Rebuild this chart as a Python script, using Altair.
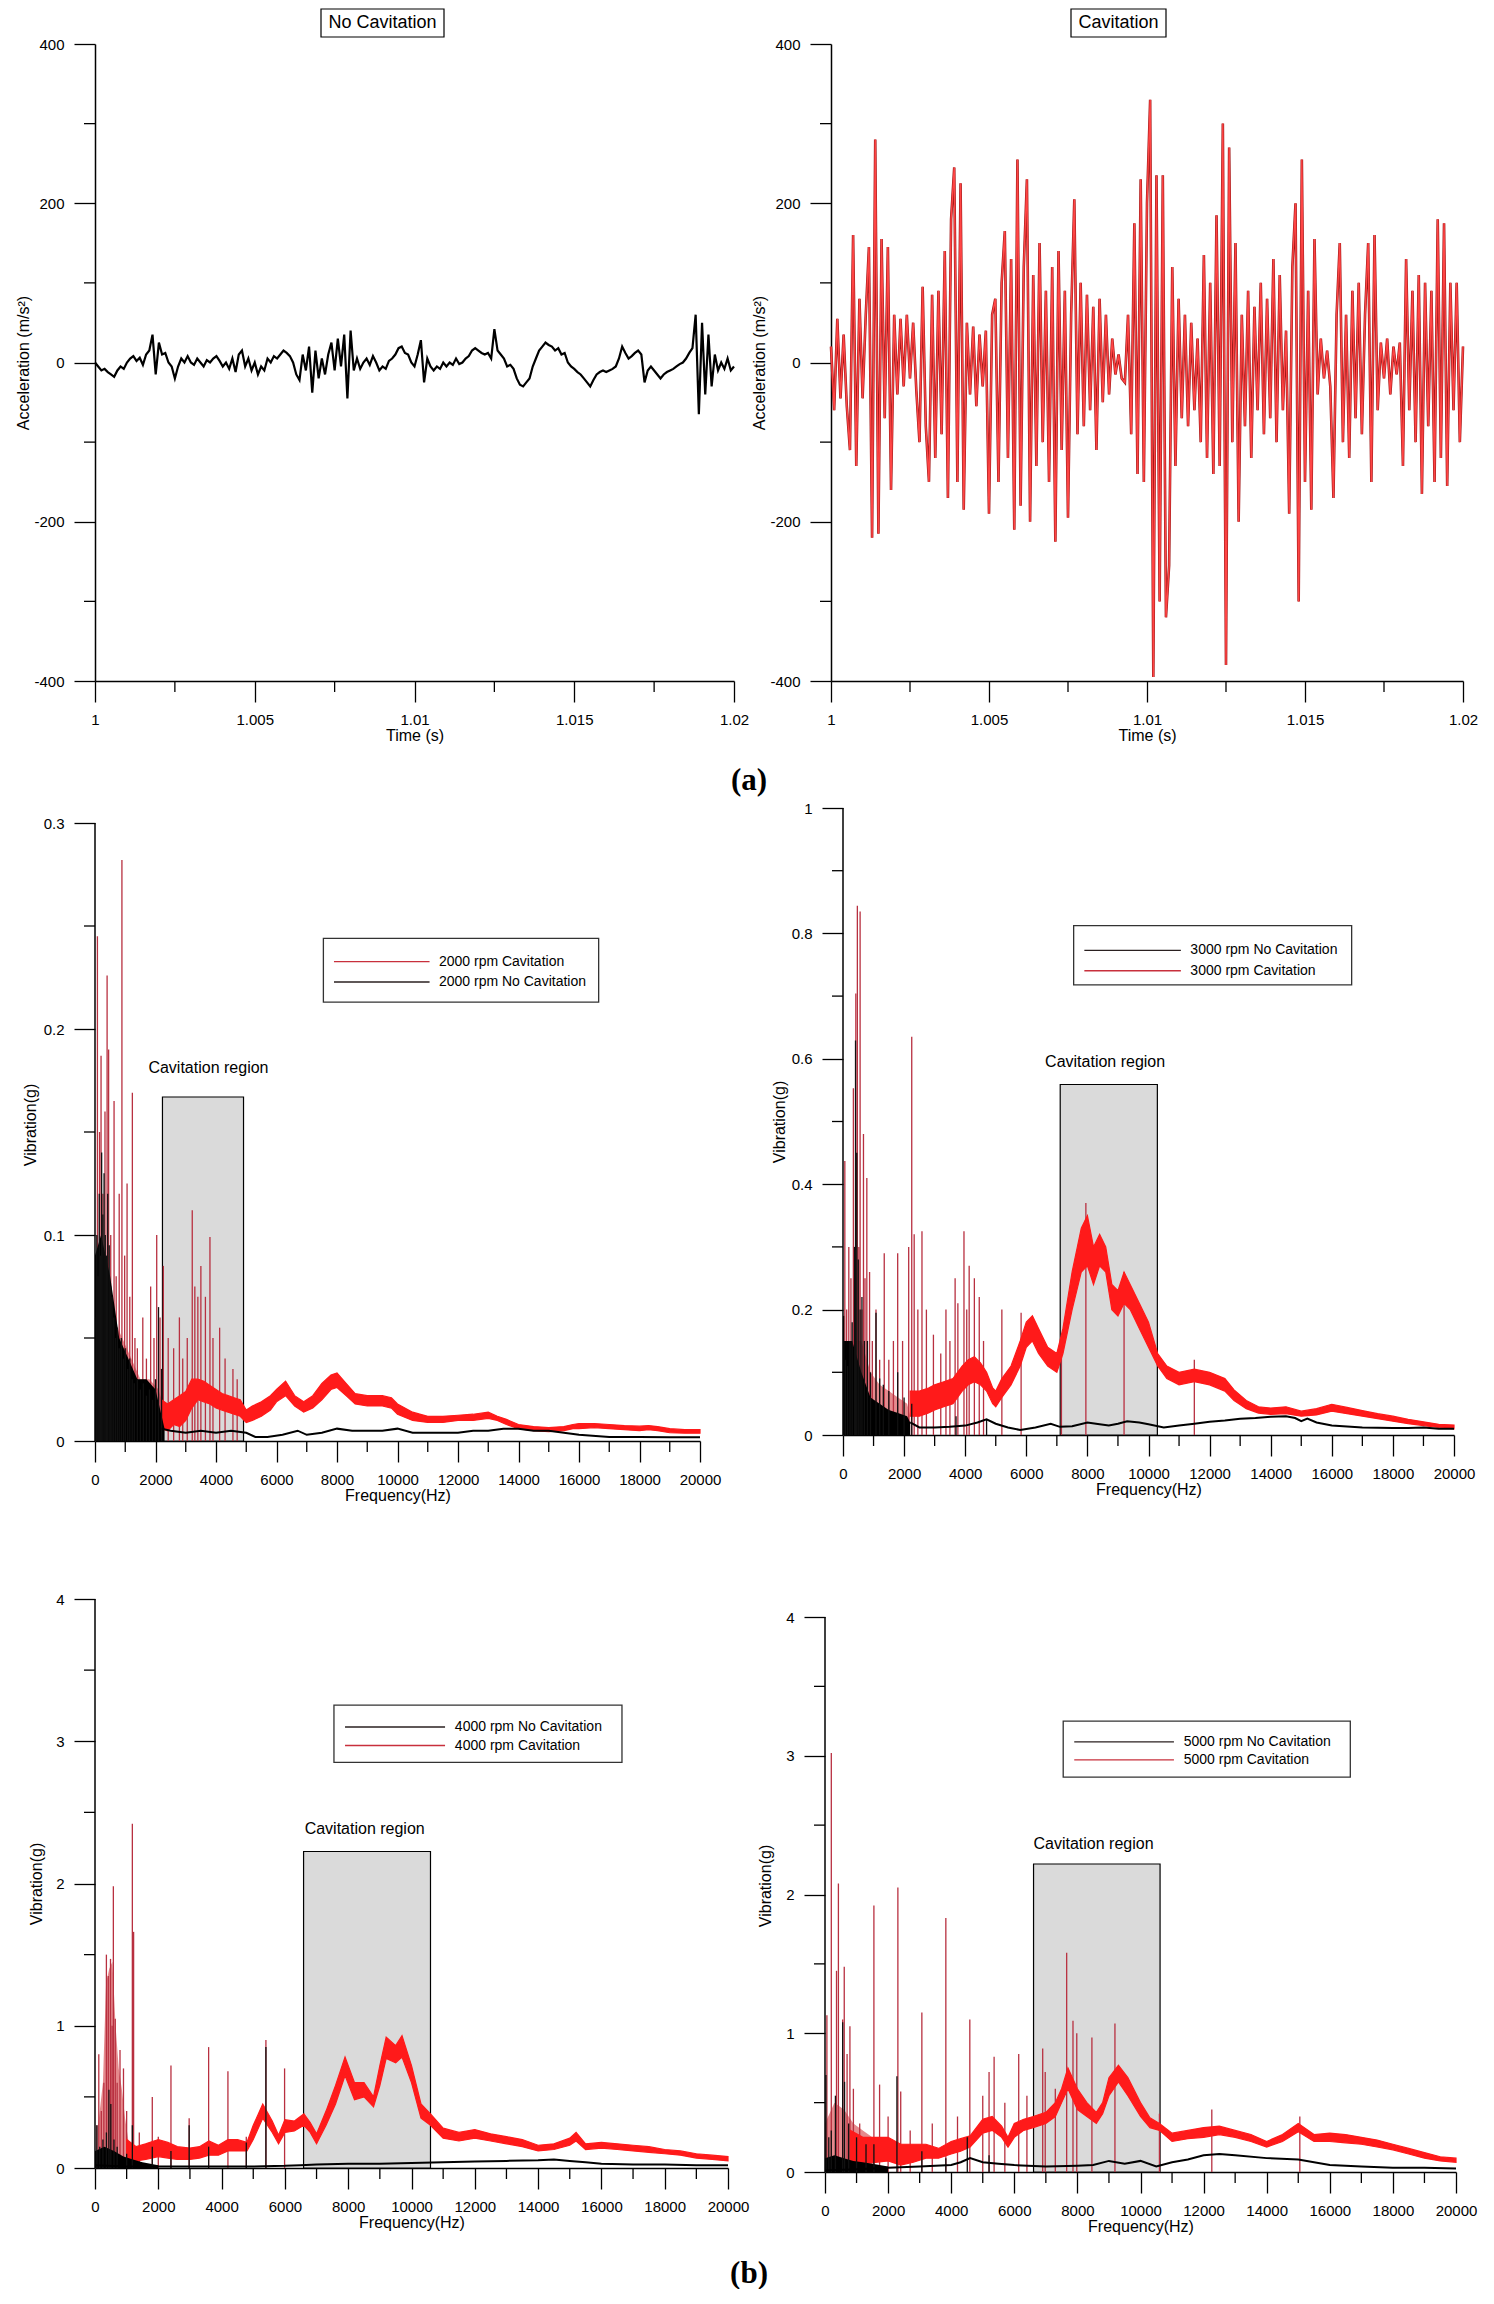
import altair as alt
import pandas as pd

FONT = "Liberation Sans"
SERIF = "Liberation Serif"

# ---------------- (a) time signals ----------------
T_START = 1.0
T_STEP = 0.0001
ACC_NO_CAV = [
    0, -5, -10, -8, -12, -15, -18, -10, -5, -8, 0, 5, 8, 2, 6, -3, 10, 15, 35, -15,
    25, 10, 12, 0, -5, -20, -5, 5, 0, 8, 0, -3, 5, 0, -5, 3, 0, 5, 8, 2,
    -5, 0, -8, 5, -12, 10, 15, -5, 5, -10, 0, -15, -5, -10, 5, 0, 8, 5, 10, 15,
    12, 8, 0, -15, -22, 10, -10, 20, -38, 15, -20, 5, -15, 10, 25, -10, 30, -5, 35, -45,
    40, -10, 5, -8, 0, 5, -3, 8, 0, -10, -5, -8, 2, 5, 10, 18, 20, 12, 10, 0,
    -5, 10, 28, -25, 5, -5, -10, -5, -8, 0, -5, 0, -3, 5, -2, 0, 5, 8, 15, 18,
    15, 12, 10, 12, 5, 42, 15, 10, 5, -5, -3, -8, -20, -28, -30, -25, -20, -5, 5, 15,
    20, 25, 22, 20, 15, 18, 10, 12, 0, -5, -8, -12, -15, -20, -25, -30, -22, -15, -12, -10,
    -12, -10, -8, -5, 5, 20, 12, 5, 8, 12, 15, 10, -25, -10, -5, -10, -15, -20, -15, -12,
    -10, -8, -5, -2, 0, 5, 12, 18, 60, -65, 50, -40, 35, -30, 10, -10, 0, -8, 5, -10,
    -5,
]
ACC_CAV = [
    20, -60, 55, -45, 35, -55, -110, 160, -130, 80, -45, 60, 145, -220, 280, -215, 155, -70, 145, -160,
    60, -40, 55, -30, 60, -20, 50, -35, -100, 95, -80, -150, 85, -120, 90, -90, 140, -170, 180, 245,
    -150, 225, -185, 50, -40, 45, -55, 35, -30, 40, -190, 60, 80, -150, 100, 165, -120, 130, -210, 255,
    -180, 120, 230, -200, 110, -130, 150, -100, 90, -150, 120, -225, 140, -110, 90, -195, 60, 205, -90, 100,
    -80, 85, -60, 70, -110, 80, -50, 60, -40, 30, -15, 10, -20, -25, 60, -90, 175, -140, 230, -150,
    200, 330, -395, 235, -300, 235, -320, -255, 120, -130, 80, -70, 60, -80, 50, -60, 30, -100, 135, -120,
    100, -140, 185, -130, 300, -380, 270, -100, 150, -200, 60, -80, 90, -120, 70, -60, 100, -90, 80, -70,
    130, -100, 110, -60, 40, -190, 120, 200, -300, 255, -150, 90, -185, 155, -40, 30, -20, 15, -30, -170,
    60, 150, -100, 60, -120, 90, -70, 100, -90, 60, 150, -150, 160, -60, 25, -20, 30, -40, 20, -15,
    25, -130, 130, -60, 90, -100, 110, -165, 100, -80, 90, -150, 180, -120, 175, -155, 100, -60, 100, -100,
    20,
]
TIME = [round(T_START + i * T_STEP, 5) for i in range(len(ACC_CAV))]
TIME_TICKS = [1, 1.005, 1.01, 1.015, 1.02]
TIME_MINOR = [1.0025, 1.0075, 1.0125, 1.0175]
ACC_TICKS = [-400, -200, 0, 200, 400]
ACC_MINOR = [-300, -100, 100, 300]

# ---------------- (b) spectra ----------------
FREQ_TICKS = [0, 2000, 4000, 6000, 8000, 10000, 12000, 14000, 16000, 18000, 20000]
FREQ_MINOR = [1000, 3000, 5000, 7000, 9000, 11000, 13000, 15000, 17000, 19000]

# 2000 rpm
R2_F = [2200, 2400, 2600, 2800, 3000, 3200, 3400, 3600, 3800, 4000, 4200, 4400, 4600, 4800, 5000, 5200, 5500, 5800,
        6000, 6300, 6600, 6900, 7200, 7500, 7800, 8000, 8300, 8600, 9000, 9500, 9800, 10000, 10500, 11000, 11500,
        12000, 12500, 13000, 13300, 13600, 14000, 14500, 15000, 15500, 15800, 16000, 16500, 17000, 17500, 18000,
        18300, 18600, 19000, 19500, 20000]
R2_LO = [0.006, 0.005, 0.008, 0.007, 0.010, 0.016, 0.020, 0.019, 0.018, 0.016, 0.015, 0.014, 0.013, 0.012, 0.009,
         0.010, 0.012, 0.015, 0.019, 0.022, 0.017, 0.014, 0.016, 0.020, 0.025, 0.026, 0.022, 0.018, 0.017, 0.017,
         0.016, 0.013, 0.010, 0.009, 0.009, 0.010, 0.010, 0.011, 0.010, 0.008, 0.006, 0.005, 0.0045, 0.005, 0.006,
         0.006, 0.0065, 0.006, 0.0055, 0.005, 0.0055, 0.005, 0.004, 0.0038, 0.0038]
R2_HI = [0.020, 0.018, 0.020, 0.022, 0.024, 0.030, 0.030, 0.029, 0.027, 0.025, 0.023, 0.022, 0.021, 0.020, 0.015,
         0.017, 0.019, 0.022, 0.025, 0.029, 0.022, 0.019, 0.022, 0.028, 0.032, 0.033, 0.028, 0.023, 0.022, 0.022,
         0.021, 0.018, 0.014, 0.012, 0.012, 0.0125, 0.013, 0.014, 0.012, 0.0105, 0.008, 0.007, 0.0065, 0.007, 0.008,
         0.0085, 0.0085, 0.008, 0.0075, 0.0072, 0.0075, 0.007, 0.006, 0.0055, 0.0055]
R2_LOW_F = [0, 300, 600, 900, 1200, 1500, 1800, 2100, 2200]
R2_LOW_H = [0.07, 0.08, 0.06, 0.05, 0.04, 0.03, 0.03, 0.025, 0.02]
R2_SPK_F = [80, 150, 200, 260, 330, 400, 450, 520, 630, 700, 800, 890, 980, 1060, 1150, 1235, 1320, 1400, 1580,
            1700, 1840, 1950, 2040, 2150, 2260, 2420, 2600, 2790, 2900, 3050, 3215, 3300, 3400, 3500, 3650, 3800,
            3900, 4120, 4300, 4560, 4700]
R2_SPK_H = [0.245, 0.15, 0.187, 0.12, 0.16, 0.226, 0.19, 0.1, 0.165, 0.08, 0.12, 0.282, 0.09, 0.125, 0.07, 0.169,
            0.05, 0.045, 0.06, 0.04, 0.075, 0.05, 0.1, 0.06, 0.085, 0.05, 0.045, 0.06, 0.04, 0.05, 0.112, 0.075,
            0.07, 0.085, 0.07, 0.099, 0.05, 0.055, 0.04, 0.035, 0.03]
B2_LOW_F = [0, 200, 500, 800, 1100, 1400, 1700, 2000, 2300]
B2_LOW_H = [0.09, 0.10, 0.08, 0.05, 0.04, 0.03, 0.03, 0.025, 0.006]
B2_SPK_F = [20, 60, 100, 140, 180, 220, 260, 300, 340, 380, 420, 470, 520, 560, 620, 680, 740, 800, 870, 940,
            1000, 1080, 1150, 1230, 1300, 1400, 1500, 1600, 1700, 1800, 1900, 2000, 2100, 2200]
B2_SPK_H = [0.06, 0.1, 0.08, 0.12, 0.09, 0.14, 0.11, 0.13, 0.1, 0.09, 0.12, 0.095, 0.075, 0.07, 0.06, 0.05, 0.055,
            0.045, 0.05, 0.04, 0.045, 0.035, 0.04, 0.03, 0.028, 0.03, 0.025, 0.028, 0.022, 0.025, 0.02, 0.03,
            0.065, 0.035]
B2_F = [2200, 2500, 3000, 3500, 4000, 4500, 5000, 5300, 5700, 6200, 6700, 7000, 7500, 8000, 8500, 9000, 9500,
        10000, 10500, 11000, 11500, 12000, 12500, 13000, 13500, 14000, 14500, 15000, 15500, 16000, 17000, 18000,
        19000, 20000]
B2_V = [0.006, 0.005, 0.004, 0.005, 0.004, 0.005, 0.004, 0.002, 0.002, 0.003, 0.005, 0.003, 0.004, 0.006, 0.005,
        0.005, 0.005, 0.006, 0.004, 0.004, 0.004, 0.004, 0.005, 0.005, 0.006, 0.006, 0.005, 0.005, 0.004, 0.003,
        0.002, 0.002, 0.0018, 0.0018]

# 3000 rpm
R3_F = [2200, 2500, 2800, 3000, 3300, 3600, 3900, 4100, 4300, 4500, 4700, 4900, 5000, 5200, 5500, 5800, 6000, 6200,
        6400, 6700, 7000, 7200, 7500, 7800, 8000, 8200, 8400, 8600, 8800, 9000, 9200, 9400, 9700, 10000, 10300,
        10600, 11000, 11500, 12000, 12500, 12800, 13200, 13600, 14000, 14500, 15000, 15500, 16000, 16500, 17000,
        17500, 18000, 18500, 19000, 19500, 20000]
R3_LO = [0.03, 0.03, 0.035, 0.04, 0.045, 0.05, 0.07, 0.08, 0.085, 0.08, 0.07, 0.05, 0.045, 0.06, 0.08, 0.11, 0.14,
         0.15, 0.13, 0.11, 0.10, 0.13, 0.20, 0.26, 0.27, 0.24, 0.27, 0.26, 0.20, 0.19, 0.21, 0.20, 0.17, 0.14,
         0.11, 0.09, 0.08, 0.085, 0.08, 0.07, 0.055, 0.042, 0.035, 0.033, 0.034, 0.030, 0.032, 0.038, 0.034,
         0.030, 0.026, 0.022, 0.018, 0.015, 0.012, 0.010]
R3_HI = [0.07, 0.07, 0.075, 0.08, 0.085, 0.09, 0.11, 0.12, 0.125, 0.115, 0.10, 0.075, 0.07, 0.09, 0.11, 0.15, 0.18,
         0.19, 0.17, 0.14, 0.13, 0.17, 0.26, 0.33, 0.35, 0.30, 0.32, 0.30, 0.24, 0.23, 0.26, 0.24, 0.21, 0.18,
         0.13, 0.11, 0.10, 0.105, 0.10, 0.09, 0.072, 0.055, 0.045, 0.043, 0.045, 0.038, 0.042, 0.049, 0.044,
         0.039, 0.034, 0.030, 0.025, 0.021, 0.017, 0.016]
R3_LOW_F = [0, 300, 600, 900, 1200, 1500, 1800, 2100, 2200]
R3_LOW_H = [0.10, 0.15, 0.15, 0.10, 0.08, 0.07, 0.06, 0.05, 0.03]
R3_SPK_F = [60, 120, 190, 260, 340, 420, 470, 520, 560, 620, 670, 720, 780, 870, 960, 1080, 1200, 1350, 1500, 1650,
            1790, 1950, 2150, 2250, 2330, 2450, 2585, 2730, 2960, 3200, 3370, 3500, 3670, 3760, 3960, 4050, 4130,
            4300, 4460, 4600, 5200, 5830, 7150, 7950, 9200, 11500]
R3_SPK_H = [0.437, 0.2, 0.3, 0.25, 0.553, 0.704, 0.844, 0.3, 0.835, 0.2, 0.48, 0.25, 0.41, 0.26, 0.15, 0.2, 0.12,
            0.29, 0.12, 0.15, 0.29, 0.15, 0.3, 0.635, 0.32, 0.2, 0.325, 0.2, 0.16, 0.13, 0.2, 0.15, 0.25, 0.21,
            0.325, 0.2, 0.27, 0.25, 0.22, 0.15, 0.2, 0.195, 0.15, 0.37, 0.26, 0.12]
B3_LOW_F = [0, 300, 600, 900, 1200, 1500, 1800, 2100, 2200]
B3_LOW_H = [0.15, 0.15, 0.10, 0.06, 0.05, 0.04, 0.035, 0.03, 0.02]
B3_SPK_F = [20, 80, 150, 230, 300, 380, 410, 450, 500, 560, 620, 700, 800, 900, 1080, 1200, 1320, 1500, 1790,
            2000, 2250, 3700, 4700]
B3_SPK_H = [0.19, 0.12, 0.11, 0.15, 0.18, 0.3, 0.629, 0.45, 0.28, 0.2, 0.22, 0.15, 0.15, 0.1, 0.195, 0.09, 0.08,
            0.07, 0.1, 0.06, 0.05, 0.03, 0.025]
B3_F = [2200, 2500, 3000, 3500, 4000, 4400, 4700, 5000, 5400, 5800, 6300, 6800, 7100, 7500, 8000, 8400, 8700,
        9000, 9300, 9700, 10000, 10500, 11000, 11500, 12000, 12500, 13000, 13500, 14000, 14500, 14800, 15000,
        15200, 15500, 16000, 17000, 18000, 18500, 19000, 19500, 20000]
B3_V = [0.02, 0.012, 0.012, 0.013, 0.015, 0.02, 0.025, 0.018, 0.012, 0.008, 0.012, 0.018, 0.013, 0.014, 0.02,
        0.017, 0.015, 0.018, 0.022, 0.02, 0.017, 0.012, 0.015, 0.018, 0.021, 0.023, 0.026, 0.027, 0.029, 0.03,
        0.027, 0.022, 0.026, 0.02, 0.015, 0.012, 0.011, 0.011, 0.012, 0.01, 0.01]

# 4000 rpm
R4_F = [1000, 1300, 1600, 2000, 2300, 2600, 3000, 3300, 3600, 3900, 4200, 4500, 4800, 5000, 5300, 5600, 5800, 6000,
        6300, 6600, 6800, 7000, 7300, 7600, 7900, 8200, 8500, 8800, 9000, 9200, 9500, 9700, 10000, 10300, 10600,
        11000, 11500, 12000, 12500, 13000, 13500, 14000, 14500, 15000, 15200, 15500, 16000, 16500, 17000, 17500,
        18000, 18500, 19000, 19500, 20000]
R4_LO = [0.05, 0.05, 0.06, 0.08, 0.07, 0.06, 0.06, 0.07, 0.09, 0.09, 0.12, 0.12, 0.12, 0.20, 0.35, 0.25, 0.17, 0.25,
         0.26, 0.30, 0.25, 0.17, 0.30, 0.45, 0.65, 0.48, 0.50, 0.43, 0.58, 0.77, 0.74, 0.78, 0.60, 0.35, 0.30,
         0.21, 0.19, 0.21, 0.19, 0.17, 0.15, 0.12, 0.13, 0.16, 0.19, 0.13, 0.14, 0.13, 0.12, 0.11, 0.10, 0.09,
         0.07, 0.06, 0.05]
R4_HI = [0.20, 0.15, 0.17, 0.20, 0.18, 0.15, 0.14, 0.15, 0.19, 0.16, 0.20, 0.20, 0.18, 0.30, 0.45, 0.33, 0.23, 0.34,
         0.33, 0.38, 0.32, 0.24, 0.40, 0.58, 0.78, 0.60, 0.60, 0.50, 0.72, 0.92, 0.86, 0.93, 0.72, 0.45, 0.38,
         0.28, 0.25, 0.27, 0.24, 0.22, 0.20, 0.16, 0.17, 0.21, 0.25, 0.17, 0.18, 0.17, 0.16, 0.15, 0.13, 0.12,
         0.10, 0.09, 0.08]
R4_LOW_F = [100, 250, 350, 450, 550, 650, 750, 850, 950, 1050]
R4_LOW_H = [0.3, 0.6, 1.3, 1.4, 1.45, 1.0, 0.7, 0.55, 0.35, 0.2]
R4_SPK_F = [60, 120, 200, 280, 360, 420, 490, 540, 580, 640, 700, 790, 900, 1000, 1180, 1220, 1400, 1810, 2000,
            2400, 2975, 3590, 4200, 4780, 5400, 5990]
R4_SPK_H = [0.3, 0.8, 0.4, 0.6, 1.5, 1.35, 1.47, 1.0, 1.98, 1.05, 0.6, 0.83, 0.7, 0.4, 2.42, 1.66, 0.25, 0.5, 0.22,
            0.72, 0.35, 0.85, 0.68, 0.22, 0.9, 0.7]
B4_LOW_F = [0, 300, 600, 900, 1200, 1500, 2000]
B4_LOW_H = [0.12, 0.15, 0.12, 0.08, 0.06, 0.04, 0.02]
B4_SPK_F = [60, 150, 250, 360, 440, 500, 600, 700, 1000, 1180, 1810, 2400, 2975, 3590, 4780, 5400]
B4_SPK_H = [0.3, 0.15, 0.2, 0.25, 0.55, 0.45, 0.2, 0.15, 0.1, 0.3, 0.15, 0.12, 0.3, 0.15, 0.18, 0.85]
B4_F = [0, 1000, 2000, 3000, 4000, 5000, 6000, 6500, 7000, 8000, 9000, 10000, 11000, 12000, 13000, 14000, 14500,
        15000, 15500, 16000, 17000, 18000, 19000, 20000]
B4_V = [0.02, 0.01, 0.01, 0.01, 0.01, 0.01, 0.015, 0.02, 0.025, 0.03, 0.03, 0.035, 0.04, 0.045, 0.05, 0.055, 0.06,
        0.05, 0.04, 0.03, 0.025, 0.025, 0.02, 0.02]

# 5000 rpm
R5_F = [800, 1200, 1600, 2000, 2400, 2800, 3200, 3600, 4000, 4300, 4600, 5000, 5300, 5600, 5800, 6000, 6300, 6600,
        7000, 7300, 7500, 7700, 8000, 8300, 8600, 8800, 9000, 9300, 9600, 10000, 10300, 10600, 11000, 11500,
        12000, 12500, 13000, 13500, 14000, 14500, 15000, 15500, 16000, 16500, 17000, 17500, 18000, 18500, 19000,
        19500, 20000]
R5_LO = [0.05, 0.06, 0.07, 0.08, 0.05, 0.07, 0.10, 0.10, 0.13, 0.15, 0.18, 0.28, 0.30, 0.25, 0.18, 0.25, 0.30,
         0.32, 0.35, 0.40, 0.50, 0.60, 0.45, 0.40, 0.35, 0.42, 0.55, 0.65, 0.55, 0.40, 0.32, 0.30, 0.22, 0.24,
         0.25, 0.27, 0.25, 0.22, 0.18, 0.22, 0.29, 0.22, 0.22, 0.21, 0.20, 0.18, 0.16, 0.13, 0.10, 0.08, 0.07]
R5_HI = [0.30, 0.25, 0.25, 0.25, 0.20, 0.20, 0.20, 0.17, 0.22, 0.24, 0.26, 0.38, 0.40, 0.33, 0.25, 0.35, 0.38,
         0.40, 0.43, 0.50, 0.60, 0.75, 0.60, 0.50, 0.43, 0.50, 0.68, 0.77, 0.68, 0.50, 0.39, 0.35, 0.28, 0.30,
         0.32, 0.33, 0.30, 0.27, 0.22, 0.27, 0.35, 0.27, 0.28, 0.27, 0.25, 0.23, 0.20, 0.17, 0.14, 0.11, 0.10]
R5_LOW_F = [0, 300, 600, 900, 1200, 1500]
R5_LOW_H = [0.35, 0.5, 0.45, 0.35, 0.3, 0.25]
R5_SPK_F = [60, 200, 365, 425, 560, 610, 700, 790, 900, 1100, 1550, 1730, 2000, 2310, 2400, 2700, 3070, 3400, 3830,
            4200, 4590, 5000, 5200, 5360, 5700, 6140, 6400, 6900, 6980, 7300, 7660, 7860, 7980, 8460, 9190, 10600,
            12260, 15050]
R5_SPK_H = [1.13, 3.02, 1.45, 2.08, 1.1, 1.48, 0.85, 1.05, 0.6, 0.35, 1.92, 0.63, 0.4, 2.05, 0.58, 0.3, 1.15, 0.35,
            1.83, 0.4, 1.1, 0.55, 0.72, 0.83, 0.5, 0.85, 0.55, 0.89, 0.72, 0.6, 1.58, 1.09, 1.0, 0.97, 1.07, 0.42,
            0.45, 0.4]
B5_LOW_F = [0, 300, 600, 900, 1200, 1500, 2000]
B5_LOW_H = [0.1, 0.12, 0.1, 0.08, 0.07, 0.06, 0.04]
B5_SPK_F = [30, 120, 200, 330, 560, 620, 750, 1000, 1300, 1550, 2280, 3070, 3830, 4510, 5200]
B5_SPK_H = [0.7, 0.25, 0.3, 0.55, 1.08, 0.65, 0.35, 0.25, 0.2, 0.2, 0.69, 0.15, 0.1, 0.25, 0.12]
B5_F = [0, 1000, 2000, 3000, 4000, 4300, 4600, 5000, 5500, 6000, 7000, 8000, 8500, 9000, 9500, 10000, 10500, 11000,
        11500, 12000, 12500, 13000, 14000, 15000, 16000, 17000, 18000, 19000, 20000]
B5_V = [0.01, 0.02, 0.03, 0.04, 0.05, 0.07, 0.10, 0.07, 0.06, 0.05, 0.04, 0.045, 0.05, 0.08, 0.06, 0.08, 0.04,
        0.07, 0.09, 0.12, 0.13, 0.12, 0.10, 0.09, 0.05, 0.04, 0.03, 0.03, 0.025]

RED = "#ff1a1a"
SPIKE_RED = "#b83040"
REGION_FILL = "#dadada"
LEG_RED = "#c8303c"
LEG_BLK = "#2a2020"
ONE = pd.DataFrame({"k": [0]})
LABEL_EXPR = "'' + datum.value"


def make_axis(values, title, orient, label_pad, title_pad, domain=True):
    return alt.Axis(values=values, title=title, orient=orient, tickSize=21, labelPadding=label_pad,
                    titlePadding=title_pad, labelExpr=LABEL_EXPR, domain=domain)


def minor_layers(xvals, yvals, xs, ys, xax, yax, H):
    mx = alt.Chart(pd.DataFrame({"m": xvals})).mark_rule(color="black", strokeWidth=1.3).encode(
        x=alt.X("m:Q", scale=xs, axis=xax), y=alt.value(H), y2=alt.value(H + 11))
    my = alt.Chart(pd.DataFrame({"m": yvals})).mark_rule(color="black", strokeWidth=1.3).encode(
        y=alt.Y("m:Q", scale=ys, axis=yax), x=alt.value(0), x2=alt.value(-11))
    return [mx, my]


def spacer(top):
    # invisible rule that reserves room above the plot area
    return alt.Chart(ONE).mark_rule(color="white", strokeWidth=0.5, opacity=0.01).encode(
        x=alt.value(0), y=alt.value(-top), y2=alt.value(0))


def time_panel(values, title_text, box, W, H, cav):
    xs = alt.Scale(domain=[1, 1.02], nice=False, zero=False)
    ys = alt.Scale(domain=[-400, 400], nice=False, zero=False)
    df = pd.DataFrame({"t": TIME, "v": values})
    xax = make_axis(TIME_TICKS, "Time (s)", "bottom", 10, 0)
    yax = make_axis(ACC_TICKS, "Acceleration (m/s²)", "left", 10, 2)
    X = alt.X("t:Q", scale=xs, axis=xax)
    Y = alt.Y("v:Q", scale=ys, axis=yax)
    layers = []
    if cav:
        layers.append(alt.Chart(df).mark_line(color="#a01818", strokeWidth=2.6).encode(x=X, y=Y))
        layers.append(alt.Chart(df).mark_line(color="#ff4545", strokeWidth=1.4).encode(x=X, y=Y))
    else:
        layers.append(alt.Chart(df).mark_line(color="black", strokeWidth=2.2).encode(x=X, y=Y))
    layers += minor_layers(TIME_MINOR, ACC_MINOR, xs, ys, xax, yax, H)
    layers.append(alt.Chart(ONE).mark_rect(fill="white", stroke="black", strokeWidth=1.2).encode(
        x=alt.value(box[0]), x2=alt.value(box[1]), y=alt.value(-35), y2=alt.value(-7)))
    layers.append(alt.Chart(ONE).mark_text(font=FONT, fontSize=18, color="black").encode(
        x=alt.value((box[0] + box[1]) / 2), y=alt.value(-21), text=alt.value(title_text)))
    return alt.layer(*layers).properties(width=W, height=H)


def spectrum_panel(W, H, ymax, yticks, yminor, ytp, rb, rlow, blow, rspk, bspk, bline, region, lab, leg,
                   ext=0, pad=0):
    # ext: blank pixels kept above the top tick so the plot sits lower in its row
    Ht = H + ext
    xs = alt.Scale(domain=[0, 20000], nice=False, zero=False)
    ys = alt.Scale(domain=[0, ymax * Ht / H], nice=False, zero=False)
    xax = make_axis(FREQ_TICKS, "Frequency(Hz)", "bottom", 10, 0)
    yax = make_axis(yticks, "Vibration(g)", "left", 10, ytp, domain=False)

    def X(f):
        return alt.X(f, scale=xs, axis=xax)

    def Y(f):
        return alt.Y(f, scale=ys, axis=yax)

    L = []
    reg_df = pd.DataFrame({"x0": [region[0]], "x1": [region[1]], "y1": [region[2]]})
    L.append(alt.Chart(reg_df).mark_rect(fill=REGION_FILL, stroke="black", strokeWidth=1.2).encode(
        x=X("x0:Q"), x2="x1:Q", y=Y("y1:Q"), y2=alt.value(Ht)))
    L.append(alt.Chart(pd.DataFrame({"f": rlow[0], "h": rlow[1]})).mark_area(color="#d02a30", opacity=0.55).encode(
        x=X("f:Q"), y=Y("h:Q"), y2=alt.value(Ht)))
    L.append(alt.Chart(pd.DataFrame({"f": rspk[0], "h": rspk[1]})).mark_rule(color=SPIKE_RED, strokeWidth=1.3).encode(
        x=X("f:Q"), y=Y("h:Q"), y2=alt.value(Ht)))
    L.append(alt.Chart(pd.DataFrame({"f": rb[0], "lo": rb[1], "hi": rb[2]})).mark_area(
        color=RED, stroke=RED, strokeWidth=1.2).encode(x=X("f:Q"), y=Y("lo:Q"), y2="hi:Q"))
    L.append(alt.Chart(pd.DataFrame({"f": blow[0], "h": blow[1]})).mark_area(color="black").encode(
        x=X("f:Q"), y=Y("h:Q"), y2=alt.value(Ht)))
    L.append(alt.Chart(pd.DataFrame({"f": bspk[0], "h": bspk[1]})).mark_rule(color="#111111", strokeWidth=1.3).encode(
        x=X("f:Q"), y=Y("h:Q"), y2=alt.value(Ht)))
    L.append(alt.Chart(pd.DataFrame({"f": bline[0], "v": bline[1]})).mark_line(color="black", strokeWidth=2).encode(
        x=X("f:Q"), y=Y("v:Q")))
    # y axis line from 0 to the top tick
    L.append(alt.Chart(pd.DataFrame({"a": [0], "b": [ymax]})).mark_rule(color="black", strokeWidth=1.5).encode(
        x=alt.value(0), y=Y("a:Q"), y2="b:Q"))
    L += minor_layers(FREQ_MINOR, yminor, xs, ys, xax, yax, Ht)
    lab_df = pd.DataFrame({"x": [lab[0]], "y": [lab[1]], "t": ["Cavitation region"]})
    L.append(alt.Chart(lab_df).mark_text(font=FONT, fontSize=16, color="black").encode(
        x=X("x:Q"), y=Y("y:Q"), text="t:N"))
    # legend box
    box_df = pd.DataFrame({"x0": [7550], "x1": [16650], "y0": [leg[0]], "y1": [leg[1]]})
    L.append(alt.Chart(box_df).mark_rect(fill="white", stroke="#333333", strokeWidth=1.3).encode(
        x=X("x0:Q"), x2="x1:Q", y=Y("y0:Q"), y2="y1:Q"))
    rows = pd.DataFrame({"x0": [7900, 7900], "x1": [11060, 11060], "xt": [11370, 11370],
                         "y": [leg[2][0][0], leg[2][1][0]], "t": [leg[2][0][1], leg[2][1][1]],
                         "c": [leg[2][0][2], leg[2][1][2]]})
    L.append(alt.Chart(rows).mark_rule(strokeWidth=1.4).encode(
        x=X("x0:Q"), x2="x1:Q", y=Y("y:Q"), color=alt.Color("c:N", scale=None, legend=None)))
    L.append(alt.Chart(rows).mark_text(font=FONT, fontSize=14, color="black", align="left").encode(
        x=X("xt:Q"), y=Y("y:Q"), text="t:N"))
    if pad > 0:
        L.append(spacer(pad))
    return alt.layer(*L).properties(width=W, height=Ht)


def panel_label(text, x, y, h):
    return alt.Chart(ONE).mark_text(font=SERIF, fontSize=31, fontWeight="bold", color="black").encode(
        x=alt.value(x), y=alt.value(y), text=alt.value(text)).properties(width=700, height=h)


p1 = time_panel(ACC_NO_CAV, "No Cavitation", (226, 349), 639, 637, False)
p2 = time_panel(ACC_CAV, "Cavitation", (240, 335), 632, 637, True)

p3 = spectrum_panel(605, 618, 0.3, [0, 0.1, 0.2, 0.3], [0.05, 0.15, 0.25], 5,
                    (R2_F, R2_LO, R2_HI), (R2_LOW_F, R2_LOW_H), (B2_LOW_F, B2_LOW_H),
                    (R2_SPK_F, R2_SPK_H), (B2_SPK_F, B2_SPK_H), (B2_F, B2_V),
                    (2230, 4910, 0.167), (3750, 0.181),
                    (0.244, 0.213, [(0.2327, "2000 rpm Cavitation", LEG_RED), (0.2228, "2000 rpm No Cavitation", LEG_BLK)]),
                    ext=15)
p4 = spectrum_panel(611, 627, 1, [0, 0.2, 0.4, 0.6, 0.8, 1], [0.1, 0.3, 0.5, 0.7, 0.9], 4,
                    (R3_F, R3_LO, R3_HI), (R3_LOW_F, R3_LOW_H), (B3_LOW_F, B3_LOW_H),
                    (R3_SPK_F, R3_SPK_H), (B3_SPK_F, B3_SPK_H), (B3_F, B3_V),
                    (7110, 10290, 0.559), (8580, 0.595),
                    (0.8125, 0.7178, [(0.773, "3000 rpm No Cavitation", LEG_BLK), (0.7405, "3000 rpm Cavitation", LEG_RED)]))
p5 = spectrum_panel(633, 569, 4, [0, 1, 2, 3, 4], [0.5, 1.5, 2.5, 3.5], 11,
                    (R4_F, R4_LO, R4_HI), (R4_LOW_F, R4_LOW_H), (B4_LOW_F, B4_LOW_H),
                    (R4_SPK_F, R4_SPK_H), (B4_SPK_F, B4_SPK_H), (B4_F, B4_V),
                    (6590, 10600, 2.225), (8520, 2.38),
                    (3.254, 2.852, [(3.10, "4000 rpm No Cavitation", LEG_BLK), (2.97, "4000 rpm Cavitation", LEG_RED)]),
                    pad=91)
p6 = spectrum_panel(631, 555, 4, [0, 1, 2, 3, 4], [0.5, 1.5, 2.5, 3.5], 12,
                    (R5_F, R5_LO, R5_HI), (R5_LOW_F, R5_LOW_H), (B5_LOW_F, B5_LOW_H),
                    (R5_SPK_F, R5_SPK_H), (B5_SPK_F, B5_SPK_H), (B5_F, B5_V),
                    (6610, 10620, 2.22), (8510, 2.365),
                    (3.25, 2.846, [(3.10, "5000 rpm No Cavitation", LEG_BLK), (2.97, "5000 rpm Cavitation", LEG_RED)]),
                    ext=18)

row1 = alt.hconcat(p1, p2, spacing=2)
lab_a = panel_label("(a)", 654, 34, 50)
row2 = alt.hconcat(p3, p4, spacing=50)
row3 = alt.hconcat(p5, p6, spacing=8)
lab_b = panel_label("(b)", 654, 36, 48)

chart = alt.vconcat(row1, lab_a, row2, row3, lab_b, spacing=4).configure_view(
    stroke=None).configure_axis(
    labelFont=FONT, labelFontSize=15, labelColor="black", titleFont=FONT, titleFontSize=16,
    titleFontWeight="normal", titleColor="black", tickColor="black", tickWidth=1.3, domainColor="black",
    domainWidth=1.5, grid=False, labelOverlap=False, labelFlush=False).properties(
    background="white", padding={"left": 7, "top": 0, "right": 5, "bottom": 0})

chart.save("out.html", embed_options={"renderer": "svg", "actions": False})
